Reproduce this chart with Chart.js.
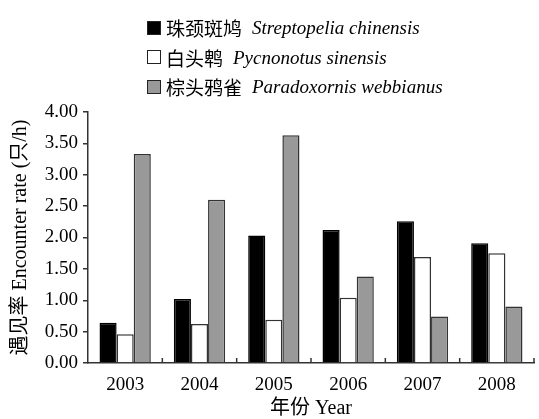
<!DOCTYPE html>
<html>
<head>
<meta charset="utf-8">
<script src="https://cdn.jsdelivr.net/npm/chart.js@4.4.1/dist/chart.umd.min.js"></script>
<style>
  body { margin: 0; background: #fff; }
  #wrap { position: relative; width: 539px; height: 419px; }
  #legend { position: absolute; left: 147px; top: 13px; font-family: 'Liberation Serif', 'Noto Sans CJK SC', serif; font-size: 19px; color: #000; }
  .row { height: 29.5px; line-height: 29.5px; white-space: nowrap; display: flex; align-items: center; }
  .box { width: 12px; height: 12px; border: 1.5px solid #222; margin-right: 5px; }
  .cn { font-family: 'Noto Sans CJK SC', serif; margin-right: 10px; }
  .latin { font-style: italic; }
</style>
</head>
<body>
<div id="wrap">
  <canvas id="chart" width="539" height="419"></canvas>
  <div id="legend"></div>
</div>
<script>
// data
const years = ['2003', '2004', '2005', '2006', '2007', '2008'];
const spottedDove = [0.64, 1.02, 2.03, 2.12, 2.26, 1.91];
const bulbul = [0.46, 0.62, 0.69, 1.04, 1.69, 1.75];
const parrotbill = [3.33, 2.60, 3.63, 1.38, 0.74, 0.90];
const speciesCn = ['珠颈斑鸠', '白头鹎', '棕头鸦雀'];
const speciesLatin = ['Streptopelia chinensis', 'Pycnonotus sinensis', 'Paradoxornis webbianus'];
const fills = ['#000000', '#ffffff', '#999999'];
const edges = ['#000000', '#333333', '#333333'];

const serif = "'Liberation Serif', 'Noto Sans CJK SC', serif";

// legend (mixed upright Chinese + italic Latin, so done in HTML)
const legendEl = document.getElementById('legend');
speciesCn.forEach((name, i) => {
  const row = document.createElement('div');
  row.className = 'row';
  row.innerHTML = '<span class="box" style="background:' + fills[i] + '"></span>' +
    '<span class="cn">' + name + '</span><span class="latin">' + speciesLatin[i] + '</span>';
  legendEl.appendChild(row);
});

// small upward ticks between year groups on the x axis
const categoryTicks = {
  id: 'categoryTicks',
  afterDraw(chart) {
    const x = chart.scales.x;
    const ctx = chart.ctx;
    const half = (x.getPixelForValue(1) - x.getPixelForValue(0)) / 2;
    ctx.save();
    ctx.strokeStyle = '#333';
    ctx.lineWidth = 1.5;
    for (let i = 0; i < years.length; i++) {
      const px = x.getPixelForValue(i) + half;
      ctx.beginPath();
      ctx.moveTo(px, x.top);
      ctx.lineTo(px, x.top - 5);
      ctx.stroke();
    }
    ctx.restore();
  }
};

const seriesList = [spottedDove, bulbul, parrotbill];

new Chart(document.getElementById('chart'), {
  type: 'bar',
  data: {
    labels: years,
    datasets: seriesList.map((values, i) => ({
      label: speciesCn[i] + ' ' + speciesLatin[i],
      data: values,
      backgroundColor: fills[i],
      borderColor: edges[i],
      borderWidth: 1.5,
      categoryPercentage: 0.69,
      barPercentage: 1.0
    }))
  },
  options: {
    responsive: false,
    animation: false,
    devicePixelRatio: 1,
    layout: { padding: { top: 112, right: 5, left: 0, bottom: 0 } },
    plugins: {
      legend: { display: false },
      tooltip: { enabled: false }
    },
    scales: {
      x: {
        grid: { display: false },
        border: { color: '#333', width: 1.5 },
        ticks: { color: '#000', font: { family: serif, size: 19 }, padding: 3 },
        title: {
          display: true,
          text: '年份 Year',
          color: '#000',
          font: { family: serif, size: 20, lineHeight: 1 },
          padding: { top: 0, bottom: 0 }
        },
        afterFit(scale) { scale.height = 56; }
      },
      y: {
        min: 0,
        max: 4,
        grid: { drawOnChartArea: false, drawTicks: true, tickLength: 5, color: '#333', lineWidth: 1.5 },
        border: { color: '#333', width: 1.5 },
        ticks: {
          stepSize: 0.5,
          color: '#000',
          padding: 5,
          font: { family: serif, size: 19 },
          callback: v => v.toFixed(2)
        },
        title: {
          display: true,
          text: '遇见率 Encounter rate (只/h)',
          color: '#000',
          font: { family: serif, size: 20, lineHeight: 1 },
          padding: { top: 11, bottom: 0 }
        },
        afterFit(scale) { scale.width = 88; }
      }
    }
  },
  plugins: [categoryTicks]
});
</script>
</body>
</html>
